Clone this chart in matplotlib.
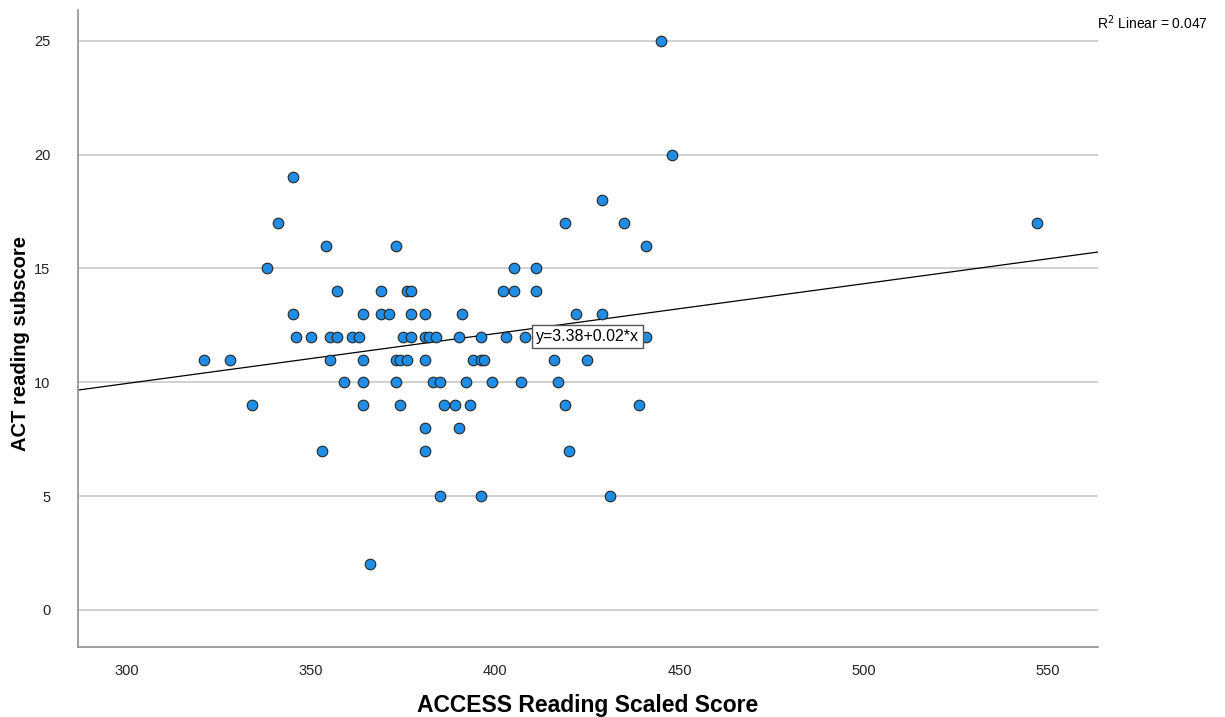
import matplotlib
matplotlib.use('Agg')
import matplotlib.pyplot as plt
import numpy as np

# ACT reading subscore by ACCESS reading scaled score
access_scores = [
    445,
    448,
    345,
    429,
    341, 419, 435, 547,
    354, 373, 441,
    338, 405, 411,
    357, 369, 376, 377, 402, 405, 411,
    345, 364, 369, 371, 377, 381, 391, 422, 429,
    346, 350, 355, 357, 361, 363, 375, 377, 381, 382, 384, 390, 396, 403, 408, 441,
    321, 328, 355, 364, 373, 374, 376, 381, 394, 396, 397, 416, 425,
    359, 364, 373, 383, 385, 392, 399, 407, 417,
    334, 364, 374, 386, 389, 393, 419, 439,
    381, 390,
    353, 381, 420,
    385, 396, 431,
    366,
]
act_scores = (
    [25] * 1 + [20] * 1 + [19] * 1 + [18] * 1 + [17] * 4 + [16] * 3 + [15] * 3
    + [14] * 7 + [13] * 9 + [12] * 16 + [11] * 13 + [10] * 9 + [9] * 8
    + [8] * 2 + [7] * 3 + [5] * 3 + [2] * 1
)

# fit line as reported by SPSS
fit_intercept = 3.38
fit_slope = 0.0219
r2_linear = 0.047

x_ticks = [300, 350, 400, 450, 500, 550]
y_ticks = [0, 5, 10, 15, 20, 25]

plt.rcParams['font.family'] = ['Liberation Sans', 'DejaVu Sans']

fig = plt.figure(figsize=(12.25, 7.17), dpi=100)
ax = fig.add_axes([0.0637, 0.0976, 0.8326, 0.8886])

xlim = (286.7, 563.6)
ylim = (-1.63, 26.36)

ax.set_axisbelow(True)
ax.grid(True, axis='y', color='#c8c8c8', linewidth=1.2)

# regression line across the whole x range
xl = np.array(xlim)
ax.plot(xl, fit_intercept + fit_slope * xl, color='black', linewidth=0.9, zorder=2)

ax.scatter(access_scores, act_scores, s=58, color='#1f8de6',
           edgecolors='#262626', linewidths=0.8, zorder=3)

ax.set_xlim(*xlim)
ax.set_ylim(*ylim)
ax.set_xticks(x_ticks)
ax.set_yticks(y_ticks)
ax.tick_params(axis='both', length=0, labelsize=10.5, colors='#222222')
ax.tick_params(axis='x', pad=12)
ax.tick_params(axis='y', pad=20)

for side in ['top', 'right']:
    ax.spines[side].set_visible(False)
for side in ['left', 'bottom']:
    ax.spines[side].set_color('#999999')
    ax.spines[side].set_linewidth(1.3)

ax.set_xlabel('ACCESS Reading Scaled Score', fontsize=16.5, fontweight='bold')
ax.xaxis.set_label_coords(0.5, -0.074)
ax.set_ylabel('ACT reading subscore', fontsize=14.5, fontweight='bold')
ax.yaxis.set_label_coords(-0.047, 0.476)

# equation label on the fit line
ax.text(425, 12.03, f'y={fit_intercept:.2f}+{round(fit_slope, 2):.2f}*x', fontsize=11.5,
        ha='center', va='center', zorder=4,
        bbox=dict(boxstyle='square,pad=0.25', facecolor='white', edgecolor='#555555', linewidth=1))

fig.text(0.8955, 0.969, f'R$^2$ Linear = {r2_linear:.3f}', fontsize=10, ha='left', va='center')

plt.savefig('out.png', dpi=100)
plt.close()
